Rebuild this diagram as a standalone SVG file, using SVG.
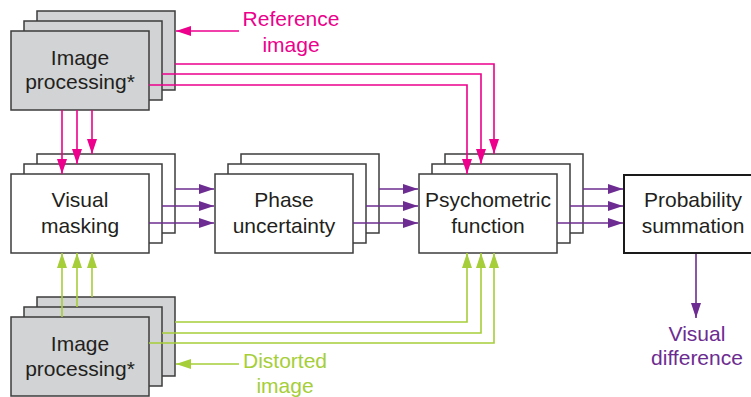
<svg xmlns="http://www.w3.org/2000/svg" width="751" height="397" viewBox="0 0 751 397">
<defs>
<style>
.box{fill:#fff;stroke:#3c3c3c;stroke-width:1.5}
.gbox{fill:#d1d3d4;stroke:#3c3c3c;stroke-width:1.5}
.pbox{fill:#fff;stroke:#1a1a1a;stroke-width:2}
text{font-family:"Liberation Sans",Arial,Helvetica,sans-serif;font-size:21px;text-anchor:middle}
.lbl{fill:#231f20}
.pk{fill:none;stroke:#ec008c;stroke-width:1.6}
.pu{fill:none;stroke:#6d2c91;stroke-width:1.6}
.gr{fill:none;stroke:#a6ce39;stroke-width:1.6}
.tpk{fill:#ec008c}
.tpu{fill:#6d2c91}
.tgr{fill:#a6ce39}
</style>
<marker id="apk" markerUnits="userSpaceOnUse" markerWidth="15" markerHeight="10" refX="15" refY="5" orient="auto"><path d="M0,0 L15,5 L0,10 z" fill="#ec008c"/></marker>
<marker id="apu" markerUnits="userSpaceOnUse" markerWidth="15" markerHeight="10" refX="15" refY="5" orient="auto"><path d="M0,0 L15,5 L0,10 z" fill="#6d2c91"/></marker>
<marker id="agr" markerUnits="userSpaceOnUse" markerWidth="15" markerHeight="10" refX="15" refY="5" orient="auto"><path d="M0,0 L15,5 L0,10 z" fill="#a6ce39"/></marker>
</defs>
<rect width="751" height="397" fill="#fff"/>

<g id="img-proc-ref">
<rect class="gbox" x="37" y="11" width="138" height="79"/>
<rect class="gbox" x="24" y="21" width="138" height="79"/>
<rect class="gbox" x="11" y="31" width="138" height="79"/>
<text class="lbl" x="80" y="65">Image</text>
<text class="lbl" x="80" y="89">processing*</text>
</g>

<g id="visual-masking">
<rect class="box" x="37" y="154" width="138" height="79"/>
<rect class="box" x="24" y="164" width="138" height="79"/>
<rect class="box" x="11" y="174" width="138" height="79"/>
<text class="lbl" x="80" y="207">Visual</text>
<text class="lbl" x="80" y="233">masking</text>
</g>

<g id="phase-uncertainty">
<rect class="box" x="241" y="154" width="138" height="79"/>
<rect class="box" x="228" y="164" width="138" height="79"/>
<rect class="box" x="215" y="174" width="138" height="79"/>
<text class="lbl" x="284" y="207">Phase</text>
<text class="lbl" x="284" y="233">uncertainty</text>
</g>

<g id="psychometric-function">
<rect class="box" x="445" y="154" width="138" height="79"/>
<rect class="box" x="432" y="164" width="138" height="79"/>
<rect class="box" x="419" y="174" width="138" height="79"/>
<text class="lbl" x="488" y="207">Psychometric</text>
<text class="lbl" x="488" y="233">function</text>
</g>

<g id="probability-summation">
<rect class="pbox" x="624" y="175" width="140" height="78"/>
<text class="lbl" x="693" y="207">Probability</text>
<text class="lbl" x="693" y="233">summation</text>
</g>

<g id="img-proc-dist">
<rect class="gbox" x="37" y="297" width="138" height="79"/>
<rect class="gbox" x="24" y="307" width="138" height="79"/>
<rect class="gbox" x="11" y="317" width="138" height="79"/>
<text class="lbl" x="80" y="351">Image</text>
<text class="lbl" x="80" y="376">processing*</text>
</g>

<g id="reference-image">
<text class="tpk" x="291" y="26">Reference</text>
<text class="tpk" x="291" y="52">image</text>
</g>

<g id="distorted-image">
<text class="tgr" x="285" y="368">Distorted</text>
<text class="tgr" x="285" y="393">image</text>
</g>

<g id="visual-difference">
<text class="tpu" x="697" y="341">Visual</text>
<text class="tpu" x="697" y="365">difference</text>
</g>

<g id="connectors">
<path class="pk" d="M239,31 H176" marker-end="url(#apk)"/>
<path class="pk" d="M62,110 V174" marker-end="url(#apk)"/>
<path class="pk" d="M77,110 V164" marker-end="url(#apk)"/>
<path class="pk" d="M92,110 V154" marker-end="url(#apk)"/>
<path class="pk" d="M175,64 H494 V154" marker-end="url(#apk)"/>
<path class="pk" d="M162,74 H481 V164" marker-end="url(#apk)"/>
<path class="pk" d="M149,85 H467 V174" marker-end="url(#apk)"/>

<path class="pu" d="M175,189 H214" marker-end="url(#apu)"/>
<path class="pu" d="M162,206 H214" marker-end="url(#apu)"/>
<path class="pu" d="M149,223 H214" marker-end="url(#apu)"/>
<path class="pu" d="M379,189 H418" marker-end="url(#apu)"/>
<path class="pu" d="M366,206 H418" marker-end="url(#apu)"/>
<path class="pu" d="M353,223 H418" marker-end="url(#apu)"/>
<path class="pu" d="M583,189 H623" marker-end="url(#apu)"/>
<path class="pu" d="M570,206 H623" marker-end="url(#apu)"/>
<path class="pu" d="M557,223 H623" marker-end="url(#apu)"/>
<path class="pu" d="M696,254 V318" marker-end="url(#apu)"/>

<path class="gr" d="M239,364 H176" marker-end="url(#agr)"/>
<path class="gr" d="M62,317 V253" marker-end="url(#agr)"/>
<path class="gr" d="M77,307 V253" marker-end="url(#agr)"/>
<path class="gr" d="M92,297 V253" marker-end="url(#agr)"/>
<path class="gr" d="M175,322 H467 V253" marker-end="url(#agr)"/>
<path class="gr" d="M162,333 H481 V253" marker-end="url(#agr)"/>
<path class="gr" d="M149,343 H494 V253" marker-end="url(#agr)"/>
</g>
</svg>
